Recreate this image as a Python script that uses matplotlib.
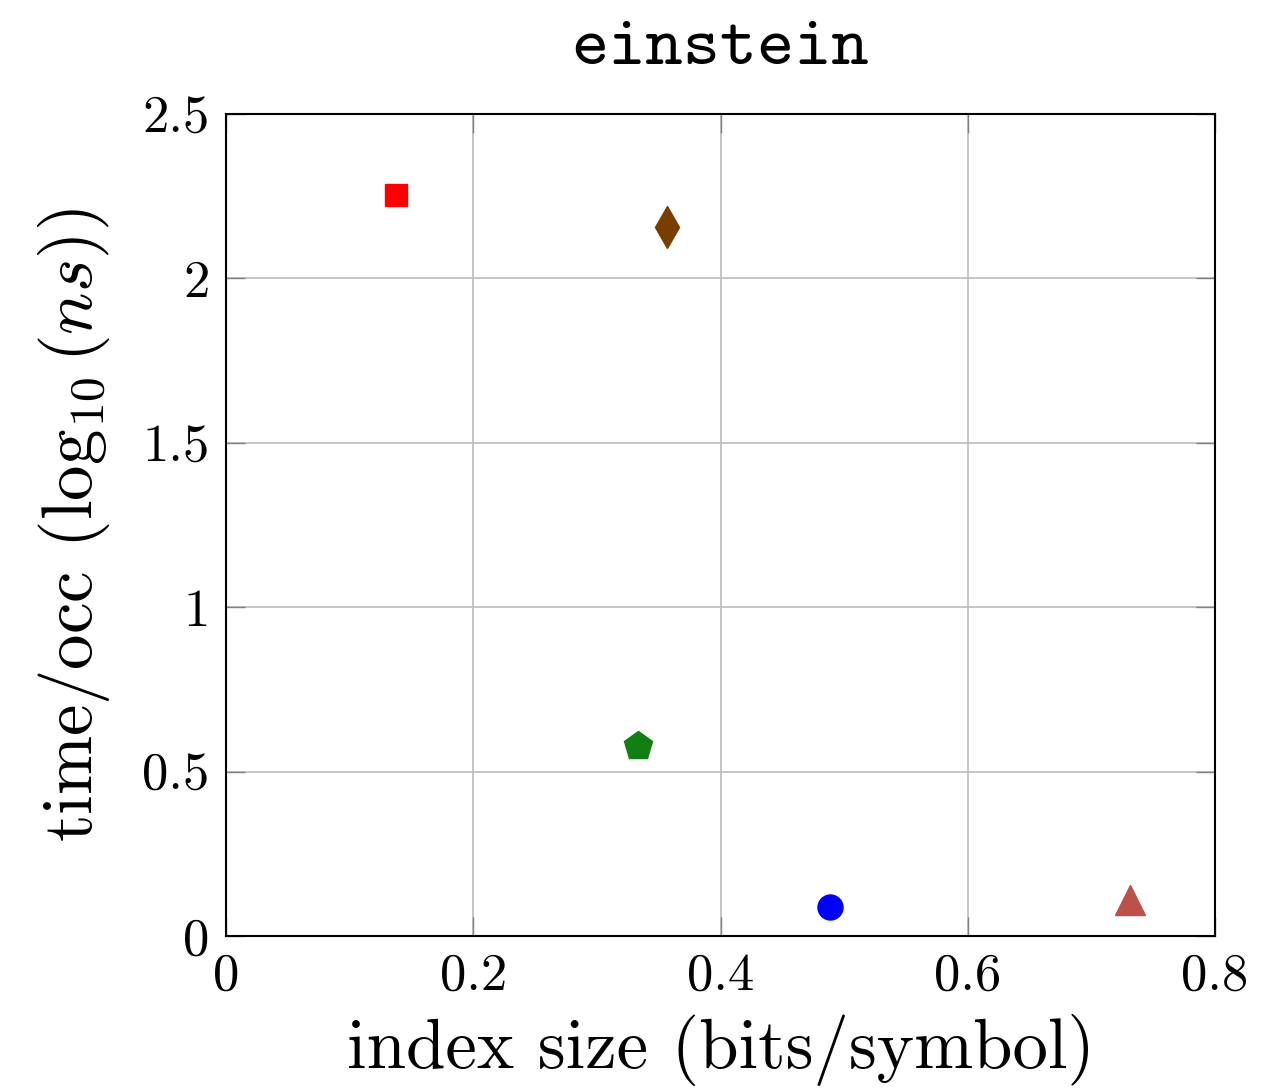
import numpy as np
import matplotlib
matplotlib.use('Agg')
import matplotlib.pyplot as plt

plt.rcParams['font.family'] = 'serif'
plt.rcParams['font.serif'] = ['cmr10']
plt.rcParams['mathtext.fontset'] = 'cm'
plt.rcParams['axes.unicode_minus'] = False

# data
x_vals = [0.1375, 0.3567, 0.3333, 0.4886, 0.7312]
y_vals = [2.254, 2.156, 0.578, 0.088, 0.1095]
markers = ['s', 'd', 'p', 'o', '^']
colors = ['#ff0000', '#7a3d00', '#117f11', '#0000ff', '#bd5048']
sizes = [16, 21, 21, 18, 21]

xticks = [0, 0.2, 0.4, 0.6, 0.8]
xtick_labels = ['0', '0.2', '0.4', '0.6', '0.8']
yticks = [0, 0.5, 1, 1.5, 2, 2.5]
ytick_labels = ['0', '0.5', '1', '1.5', '2', '2.5']

fig = plt.figure(figsize=(12.61, 10.92), dpi=100)
ax = fig.add_axes([226/1261, 156/1092, 989/1261, 822/1092])

for x, y, m, c, s in zip(x_vals, y_vals, markers, colors, sizes):
    ax.plot(x, y, marker=m, color=c, markersize=s, linestyle='none', zorder=3)

ax.set_xlim(0, 0.8)
ax.set_ylim(0, 2.5)
ax.set_xticks(xticks)
ax.set_xticklabels(xtick_labels)
ax.set_yticks(yticks)
ax.set_yticklabels(ytick_labels)
ax.grid(True, color='#c0c0c0', linewidth=1.3)
ax.set_axisbelow(True)
ax.tick_params(direction='in', length=14, width=1, color='#808080',
               labelsize=38, top=True, right=True)
ax.tick_params(axis='x', pad=12)
ax.tick_params(axis='y', pad=12)
for sp in ax.spines.values():
    sp.set_linewidth(1.5)

ax.set_xlabel('index size (bits/symbol)', fontsize=51, labelpad=10)
ax.set_ylabel(r'time/occ ($\log_{10}(ns)$)', fontsize=51, labelpad=22)
ax.set_title('einstein', fontsize=51, family='cmtt10', pad=36)

plt.savefig('out.png', dpi=100)
